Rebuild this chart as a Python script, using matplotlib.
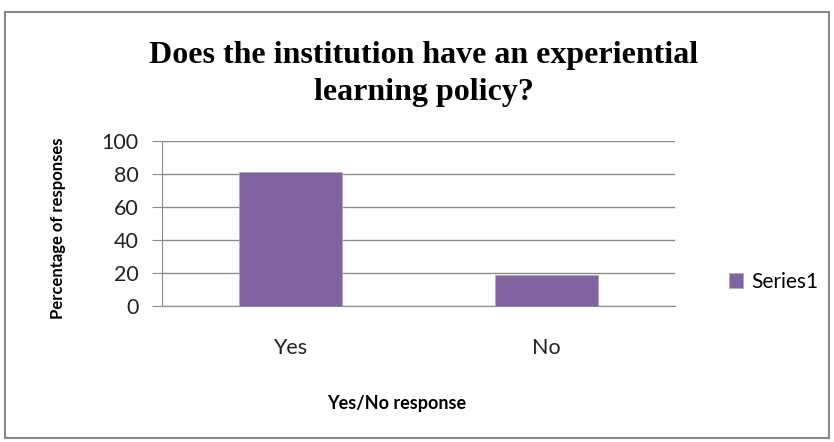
import matplotlib
matplotlib.use("Agg")
import matplotlib.pyplot as plt
from matplotlib.patches import Rectangle

categories = ["Yes", "No"]
values = [81, 19]
series_name = "Series1"
yticks = [0, 20, 40, 60, 80, 100]

W, H = 834, 442
fig = plt.figure(figsize=(W/100, H/100), dpi=100)
fig.patch.set_facecolor("white")

def fx(px):
    return px / W

def fy(py):
    return 1 - py / H

# outer chart border
fig.add_artist(Rectangle((fx(5), fy(438)), fx(829) - fx(5), fy(12) - fy(438),
                         transform=fig.transFigure, fill=False,
                         edgecolor="#888888", linewidth=1.5))

ax = fig.add_axes([fx(162), fy(306), fx(675) - fx(162), fy(141) - fy(306)])
x = list(range(len(categories)))
ax.bar(x, values, width=0.4, color="#8064A2", edgecolor="#B3A2C7", linewidth=0.6,
       label=series_name, zorder=3)
ax.set_xlim(-0.5, len(categories) - 0.5)
ax.set_ylim(0, 100)
ax.set_yticks(yticks)
ax.set_xticks(x)
ax.set_xticklabels(categories)
ax.grid(axis="y", color="#8C8C8C", linewidth=1, zorder=0)
for s in ["top", "right"]:
    ax.spines[s].set_visible(False)
ax.spines["left"].set_color("#8C8C8C")
ax.spines["bottom"].set_color("#8C8C8C")
ax.tick_params(axis="y", length=7, color="#8C8C8C", labelsize=15.5, pad=10)
ax.tick_params(axis="x", length=0, labelsize=15.5, pad=23)
for lab in ax.get_xticklabels() + ax.get_yticklabels():
    lab.set_fontfamily("Lato")
    lab.set_color("#222222")

fig.text(fx(424), fy(63), "Does the institution have an experiential",
         ha="center", va="baseline", fontsize=23, fontweight="bold",
         family="Liberation Serif")
fig.text(fx(424), fy(100), "learning policy?",
         ha="center", va="baseline", fontsize=23, fontweight="bold",
         family="Liberation Serif")
fig.text(fx(58), fy(228), "Percentage of responses", rotation=90, ha="center", va="center",
         fontsize=12, fontweight="bold", family="Lato")
fig.text(fx(397), fy(403), "Yes/No response", ha="center", va="center",
         fontsize=13, fontweight="bold", family="Lato")

leg = fig.legend(loc="center left", bbox_to_anchor=(fx(710), fy(282)), frameon=False,
                 prop={"family": "Lato", "size": 15}, handlelength=0.7, handleheight=0.7,
                 handletextpad=0.4)

fig.savefig("out.png", dpi=100)
